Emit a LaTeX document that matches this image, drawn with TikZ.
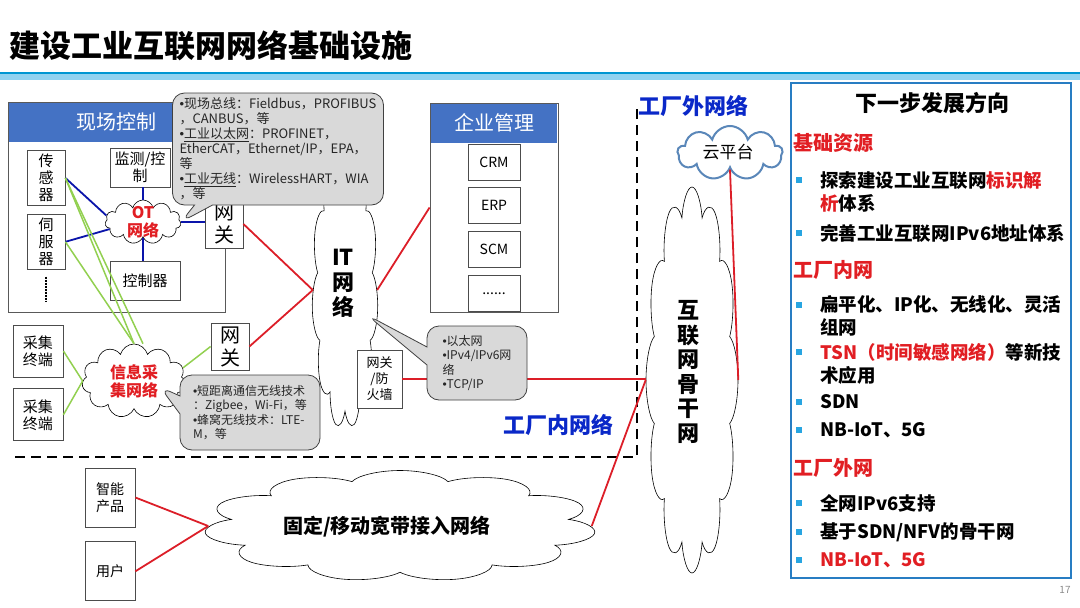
\documentclass[tikz,border=0pt]{standalone}
\usepackage{fontspec}
\setmainfont{Noto Sans CJK SC}
\newfontfamily\kropkafont{Liberation Sans}
\newcommand\punkcik{{\kropkafont •}}
\usepackage{tikz}
\usetikzlibrary{positioning,shapes.symbols,shapes.callouts}

\definecolor{pasek}{RGB}{68,114,196}
\definecolor{ciemny}{RGB}{10,20,170}
\definecolor{trawa}{RGB}{146,208,80}
\definecolor{linia}{RGB}{220,30,40}
\definecolor{hot}{RGB}{225,30,35}
\definecolor{granat}{RGB}{10,40,200}
\definecolor{panelc}{RGB}{40,125,195}
\definecolor{kwadrat}{RGB}{40,165,225}
\definecolor{szary}{RGB}{217,217,217}
\definecolor{chmurka}{RGB}{90,135,185}
\definecolor{pasmo}{RGB}{0,150,210}
\definecolor{pasmojasne}{RGB}{145,210,240}

\begin{document}
\begin{tikzpicture}[x=1pt, y=-1pt]
\tikzset{
    %styl pola
    pole/.style={
           rectangle,
           draw=black!70, thick, fill=white,
           inner sep=1pt,
           align=center,
           font=\fontsize{15}{17}\selectfont},
    modul/.style={
           pole,
           minimum width=52pt, minimum height=36pt,
           font=\fontsize{14}{16}\selectfont},
    ramka/.style={
           rectangle, draw=black!65, thick, fill=white},
    naglowek/.style={
           rectangle, fill=pasek,
           inner sep=0pt, text=white,
           minimum height=39pt,
           font=\fontsize{20}{24}\selectfont},
    %chmury
    chmura/.style={
           cloud, cloud puffs=11, cloud ignores aspect,
           draw=black, fill=white, semithick,
           inner sep=0pt},
    czerwony/.style={
           text=hot, align=center,
           font=\fontsize{16}{18}\selectfont\bfseries},
    gruby/.style={
           align=center,
           font=\fontsize{22}{25}\selectfont\bfseries},
    %dymki
    dymek/.style={
           rectangle callout, rounded corners=12pt,
           draw=black!75, fill=szary, thick,
           text=black!85, align=left,
           inner sep=4pt,
           callout pointer width=18pt},
    %linie
    niebieska/.style={draw=ciemny, line width=1.8pt},
    zielona/.style={draw=trawa, line width=1.5pt},
    czerwona/.style={draw=linia, line width=1.8pt},
    przerywana/.style={dash pattern=on 10pt off 6pt, line width=2.2pt},
    %panel
    dzial/.style={
           anchor=west, inner sep=0pt, text=hot,
           font=\fontsize{20}{23}\selectfont\bfseries},
    wpis/.style={
           anchor=west, inner sep=0pt, align=left,
           font=\fontsize{18.5}{23}\selectfont\bfseries},
    punktor/.style={
           rectangle, fill=kwadrat, inner sep=0pt,
           minimum size=6.5pt}
}
\useasboundingbox (0,0) rectangle (1080,608);

%tytul
\node(tytul) [anchor=west, inner sep=0pt, font=\fontsize{31}{36}\selectfont\bfseries] at (9,46) {建设工业互联网网络基础设施};
\fill[pasmojasne] (0,73) rectangle (1080,80);
\draw[pasmo, line width=2pt] (0,73) -- (1080,73);

%ramka fabryki
\draw[przerywana] (15,457) -- (637,457) -- (637,108);

%NODy - sterowanie
\node(pole1)     [ramka, minimum width=217pt, minimum height=210pt] at (116.5,207) {};
\node(nag1)      [naglowek, minimum width=215pt, below=1pt of pole1.north] {现场控制};
\node(czujnik)   [pole, minimum width=38pt, minimum height=55pt] at (46,178) {传\\感\\器};
\node(serwo)     [pole, minimum width=38pt, minimum height=55pt, below=8pt of czujnik] {伺\\服\\器};
\node(monitor)   [pole, minimum width=60pt, minimum height=39pt] at (140,167.5) {监测/控\\制};
\node(ot)        [chmura, minimum width=76pt, minimum height=44pt] at (143,222) {};
\node(otnapis)   [czerwony] at (ot) {OT\\网络};
\node(sterownik) [pole, minimum width=70pt, minimum height=39pt] at (145,281) {控制器};
\node(brama1)    [pole, minimum width=38pt, minimum height=48pt, font=\fontsize{20}{23}\selectfont] at (224,224) {网\\关};

%zarzadzanie
\node(pole2)     [ramka, minimum width=128pt, minimum height=209pt] at (494,207.5) {};
\node(nag2)      [naglowek, minimum width=126pt, below=1pt of pole2.north] {企业管理};
\node(crm)       [modul] at (494,162) {CRM};
\node(erp)       [modul, below=7pt of crm] {ERP};
\node(scm)       [modul, below=7pt of erp] {SCM};
\node(inne)      [modul, below=7pt of scm] {......};

%zbieranie danych
\node(zbior1)    [pole, minimum width=50pt, minimum height=52pt] at (38,351) {采集\\终端};
\node(zbior2)    [pole, minimum width=50pt, minimum height=52pt, below=11pt of zbior1] {采集\\终端};
\node(info)      [chmura, minimum width=104pt, minimum height=74pt] at (134,381) {};
\node(infonapis) [czerwony] at (info) {信息采\\集网络};
\node(brama2)    [pole, minimum width=38pt, minimum height=47pt, font=\fontsize{20}{23}\selectfont] at (230,346.5) {网\\关};

%siec IT (chmura rozciagnieta)
\begin{scope}[shift={(345,290)}, yscale=4]
\node(it)        [chmura, transform shape, minimum width=66pt, minimum height=70pt] at (0,0) {};
\end{scope}
\node(itnapis)   [gruby] at (343,283) {IT\\网\\络};
\node(zapora)    [pole, minimum width=45pt, minimum height=58pt, font=\fontsize{13}{16}\selectfont] at (379.5,379) {网关\\/防\\火墙};

%poza fabryka
\begin{scope}[shift={(692,380)}, yscale=4]
\node(szkielet)  [chmura, transform shape, cloud puffs=12, minimum width=92pt, minimum height=96.5pt] at (0,0) {};
\end{scope}
\node(sznapis)   [gruby, font=\fontsize{22}{24.5}\selectfont\bfseries] at (688,372) {互\\联\\网\\骨\\干\\网};
\node(chmura)    [chmura, cloud puffs=9, draw=chmurka, line width=2pt, minimum width=105pt, minimum height=54pt] at (730,153) {};
\node(chnapis)   [font=\fontsize{17}{20}\selectfont] at (728,152) {云平台};
\begin{scope}[shift={(400,526)}, xscale=3.3]
\node(dostep)    [chmura, transform shape, minimum width=119pt, minimum height=111pt] at (0,0) {};
\end{scope}
\node(dnapis)    [font=\fontsize{20}{24}\selectfont\bfseries] at (387,527) {固定/移动宽带接入网络};
\node(smart)     [pole, minimum width=50pt, minimum height=59pt, font=\fontsize{14}{17}\selectfont] at (110,497.5) {智能\\产品};
\node(uzytk)     [pole, minimum width=50pt, minimum height=59pt, font=\fontsize{14}{17}\selectfont, below=14pt of smart] {用户};

%Linie
\draw[niebieska] (czujnik.east) -- (ot.170);
\draw[niebieska] (serwo.east) -- (ot.192);
\draw[niebieska] (ot.north) -- (ot.north |- monitor.south);
\draw[niebieska] (ot.south) -- (ot.south |- sterownik.north);
\draw[niebieska] (ot.east) -- (ot.east -| brama1.west);
\draw[zielona] (czujnik.east) -- (info.north);
\draw[zielona] (czujnik.east) -- ([xshift=9pt]info.north);
\draw[zielona] (serwo.east) -- (info.north);
\draw[zielona] (zbior1.east) -- (info.west);
\draw[zielona] (zbior2.east) -- (info.west);
\draw[zielona] (brama2.west) -- (info.15);
\draw[czerwona] (brama1.east) -- (it.west);
\draw[czerwona] (brama2.east) -- (it.west);
\draw[czerwona] (it.east) -- (pole2.west);
\draw[czerwona] (zapora.east) -- (zapora.east -| szkielet.west);
\draw[czerwona] (szkielet.west) -- (dostep.east);
\draw[czerwona] (chmura.south) -- (szkielet.east);
\draw[czerwona] (smart.east) -- (dostep.west);
\draw[czerwona] (uzytk.east) -- (dostep.west);
\draw[line width=2pt, densely dotted] ([yshift=-7pt]serwo.south) -- ([yshift=-32pt]serwo.south);

%Dymki
\node(dymek1) [dymek, minimum width=211pt, minimum height=112pt, font=\fontsize{13}{15}\selectfont,
       callout absolute pointer={(ot.east)}] at (278,149)
       {\punkcik{}现场总线：Fieldbus，PROFIBUS\\，CANBUS，等\\\punkcik{}\underline{工业以太网}：PROFINET，\\EtherCAT，Ethernet/IP，EPA，\\等\\\punkcik{}\underline{工业无线}：WirelessHART，WIA\\，等};
\node(dymek2) [dymek, minimum width=100pt, minimum height=74pt, font=\fontsize{12}{14.5}\selectfont,
       callout absolute pointer={([xshift=22pt,yshift=-25pt]it.center)}] at (477,363)
       {\punkcik{}以太网\\\punkcik{}IPv4/IPv6网\\络\\\punkcik{}TCP/IP};
\node(dymek3) [dymek, minimum width=140pt, minimum height=75pt, font=\fontsize{12}{14.5}\selectfont,
       callout absolute pointer={([xshift=26pt,yshift=-6pt]info.center)}] at (250,412.5)
       {\punkcik{}短距离通信无线技术\\：Zigbee，Wi-Fi，等\\\punkcik{}蜂窝无线技术：LTE-\\M，等};

%Napisy
\node(zewn) [text=granat, font=\fontsize{22}{26}\selectfont\bfseries] at (693,106) {工厂外网络};
\node(wewn) [text=granat, font=\fontsize{22}{26}\selectfont\bfseries] at (558,425) {工厂内网络};

%Panel
\node(panel) [draw=panelc, line width=2.2pt, minimum width=280pt, minimum height=495pt] at (931,330.5) {};
\node(kier)  [font=\fontsize{22}{26}\selectfont\bfseries] at (932,103) {下一步发展方向};
\node(d1)    [dzial] at (793,143) {基础资源};
\node(d2)    [dzial] at (793,270) {工厂内网};
\node(d3)    [dzial] at (793,468) {工厂外网};
\foreach \y [count=\i] in {180,233,305,352,402,430,503,532,560}
    \node(kw\i) [punktor] at (799,\y) {};
\node(w1) [wpis] at (820,191.5) {探索建设工业互联网{\color{hot}标识解}\\{\color{hot}析}体系};
\node(w2) [wpis] at (820,233) {完善工业互联网IPv6地址体系};
\node(w3) [wpis] at (820,315.5) {扁平化、IP化、无线化、灵活\\组网};
\node(w4) [wpis] at (820,363.5) {{\color{hot}TSN（时间敏感网络）}等新技\\术应用};
\node(w5) [wpis] at (820,402) {SDN};
\node(w6) [wpis] at (820,430) {NB-IoT、5G};
\node(w7) [wpis] at (820,503) {全网IPv6支持};
\node(w8) [wpis] at (820,532) {基于SDN/NFV的骨干网};
\node(w9) [wpis, text=hot] at (820,560) {NB-IoT、5G};
\node(nr) [text=black!45, font=\fontsize{10}{12}\selectfont] at (1065,590) {17};
\end{tikzpicture}
\end{document}
